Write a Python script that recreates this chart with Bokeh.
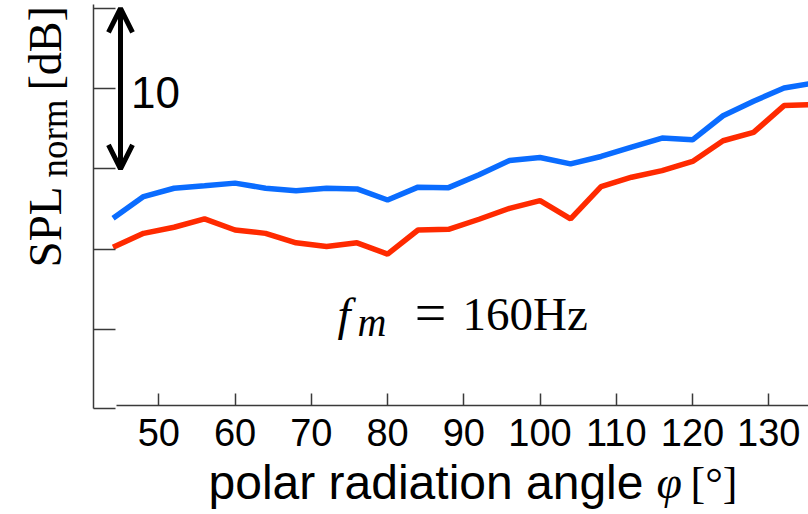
import math
from bokeh.plotting import figure
from bokeh.models import (Range1d, FixedTicker, Label, Arrow, OpenHead, LinearAxis,
                          CustomLabelingPolicy)
from bokeh.embed import file_html
from bokeh.resources import INLINE

# ---------------- data ----------------
angles = [44, 48, 52, 56, 60, 64, 68, 72, 76, 80, 84, 88, 92, 96, 100, 104,
          108, 112, 116, 120, 124, 128, 132, 136]
spl_blue = [1.92, 3.27, 3.79, 3.94, 4.11, 3.79, 3.64, 3.79, 3.75, 3.06, 3.86, 3.83,
            4.63, 5.52, 5.71, 5.31, 5.77, 6.36, 6.92, 6.81, 8.31, 9.21, 10.04, 10.35]
spl_red = [0.11, 0.98, 1.36, 1.88, 1.19, 0.98, 0.39, 0.16, 0.39, -0.31, 1.19, 1.23,
           1.86, 2.54, 3.02, 1.88, 3.89, 4.48, 4.89, 5.46, 6.75, 7.27, 8.94, 9.01]
x_ticks = [50, 60, 70, 80, 90, 100, 110, 120, 130]
y_ticks = [-5, 0, 5, 10, 15]
scale_bar = [5, 15]          # the "10" dB indicator
scale_text = "10"
freq_value = "160Hz"

# ---------------- page pixel -> data (annotation placement only) ----------------
def px(sx):
    return 50 + (sx - 158.3) / 7.625

def py(sy):
    return (248.6 - sy) / 16.05

W, H = 808, 514
X0, X1 = px(0), px(W)
Y0, Y1 = py(H), py(0)

p = figure(width=W, height=H, x_range=Range1d(X0, X1), y_range=Range1d(Y0, Y1),
           output_backend="svg", toolbar_location=None,
           min_border_left=0, min_border_right=0, min_border_top=0, min_border_bottom=0,
           x_axis_type=None, y_axis_type=None)
p.outline_line_color = None
p.xgrid.visible = False
p.ygrid.visible = False
p.background_fill_color = "white"
p.border_fill_color = "white"

# lines
p.line(angles, spl_blue, line_color="#0a6cff", line_width=5.5)
p.line(angles, spl_red, line_color="#ff2a00", line_width=5.5)

axis_col = "#3a3a3a"
no_labels = CustomLabelingPolicy(code="for (const i of indices) { indices.unset(i) }\nreturn indices")

# x axis
xa = LinearAxis(ticker=FixedTicker(ticks=x_ticks), fixed_location=py(405),
                bounds=(px(116), X1))
xa.minor_tick_line_color = None
xa.major_tick_in = 12
xa.major_tick_out = 0
xa.axis_line_color = axis_col
xa.axis_line_width = 1.5
xa.major_tick_line_color = axis_col
xa.major_tick_line_width = 1.5
xa.major_label_text_font = "Liberation Sans"
xa.major_label_text_font_size = "38px"
xa.major_label_text_color = "black"
xa.major_label_standoff = 13
p.add_layout(xa, "below")

# small foot of the left axis
fa = LinearAxis(ticker=FixedTicker(ticks=[]), fixed_location=py(408),
                bounds=(px(92.7), px(115)))
fa.minor_tick_line_color = None
fa.axis_line_color = axis_col
fa.axis_line_width = 1.5
p.add_layout(fa, "below")

# y axis (no labels)
ya = LinearAxis(ticker=FixedTicker(ticks=y_ticks), fixed_location=px(92.7),
                bounds=(py(408), py(4)))
ya.minor_tick_line_color = None
ya.major_tick_in = 22
ya.major_tick_out = 0
ya.axis_line_color = axis_col
ya.axis_line_width = 1.5
ya.major_tick_line_color = axis_col
ya.major_tick_line_width = 1.5
ya.major_label_policy = no_labels
p.add_layout(ya, "left")

# scale arrow
p.add_layout(Arrow(x_start=px(120), y_start=scale_bar[0], x_end=px(120), y_end=scale_bar[1],
                   line_width=5, line_color="black",
                   start=OpenHead(size=24, line_width=5, line_color="black"),
                   end=OpenHead(size=24, line_width=5, line_color="black")))
p.add_layout(Label(x=px(155), y=py(92), text=scale_text, text_align="center",
                   text_baseline="middle", text_font="Liberation Sans",
                   text_font_size="44px", text_color="black"))

serif = "Liberation Serif"
sans = "Liberation Sans"

def mid(baseline, size):
    # page coordinate of the em-box middle for a given baseline
    return baseline - 0.385 * size

# f_m = 160Hz
p.add_layout(Label(x=px(337), y=py(mid(332, 47)), text="f", text_font=serif,
                   text_font_style="italic", text_font_size="47px",
                   text_baseline="middle", text_color="black"))
p.add_layout(Label(x=px(357), y=py(mid(337, 40)), text="m", text_font=serif,
                   text_font_style="italic", text_font_size="40px",
                   text_baseline="middle", text_color="black"))
p.add_layout(Label(x=px(430), y=py(mid(334, 56)), text="=", text_font=serif,
                   text_align="center", text_font_size="56px",
                   text_baseline="middle", text_color="black"))
p.add_layout(Label(x=px(462), y=py(mid(332, 47)), text=freq_value, text_font=serif,
                   text_font_size="47px", text_baseline="middle", text_color="black"))

# y label: SPL_norm [dB]  (rotated; x is the em middle)
p.add_layout(Label(x=px(mid(63, 47)), y=py(267), text="SPL", angle=math.pi / 2,
                   text_font=serif, text_font_size="47px",
                   text_align="left", text_baseline="middle", text_color="black"))
p.add_layout(Label(x=px(mid(68, 37)), y=py(177), text="norm", angle=math.pi / 2,
                   text_font=serif, text_font_size="37px",
                   text_align="left", text_baseline="middle", text_color="black"))
p.add_layout(Label(x=px(mid(63, 46)), y=py(90), text="[dB]", angle=math.pi / 2,
                   text_font=serif, text_font_size="46px",
                   text_align="left", text_baseline="middle", text_color="black"))

# x label: polar radiation angle φ[°]
p.add_layout(Label(x=px(208), y=py(mid(500, 48)), text="polar radiation angle",
                   text_align="left", text_baseline="middle",
                   text_font=sans, text_font_size="48px", text_color="black"))
p.add_layout(Label(x=px(656), y=py(mid(500, 48)), text="φ",
                   text_align="left", text_baseline="middle", text_font=serif,
                   text_font_style="italic", text_font_size="46px", text_color="black"))
p.add_layout(Label(x=px(690), y=py(mid(500, 44)), text="[°]",
                   text_align="left", text_baseline="middle",
                   text_font=serif, text_font_size="44px", text_color="black"))

open("out.html", "w").write(file_html(p, INLINE))
